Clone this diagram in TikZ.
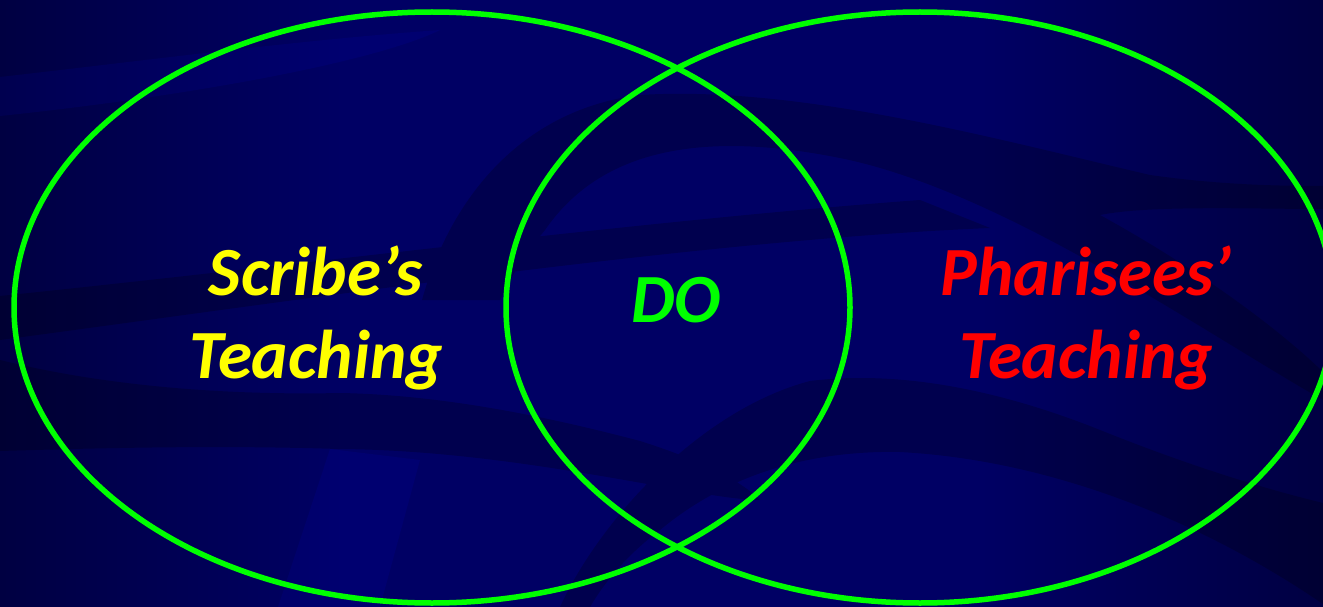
\documentclass[tikz,border=0pt]{standalone}
\usepackage{fontspec}
\setmainfont{Carlito}
\definecolor{bgbase}{RGB}{0,0,100}
\definecolor{bgedge}{RGB}{0,0,66}
\definecolor{vgreen}{RGB}{0,255,0}
\definecolor{vyellow}{RGB}{255,255,0}
\definecolor{vred}{RGB}{255,0,0}
\pgfdeclarehorizontalshading{vignette}{100bp}{color(0bp)=(bgedge); color(25bp)=(bgedge); color(38bp)=(bgbase); color(62bp)=(bgbase); color(75bp)=(bgedge); color(100bp)=(bgedge)}
\tikzset{
  vring/.style={draw=vgreen, line width=5.5pt},
  vlabel/.style={font=\bfseries\itshape\fontsize{69}{83}\selectfont, align=center, inner sep=0pt},
  darkband/.style={fill=black, opacity=0.22},
  lightband/.style={fill=blue, opacity=0.08},
}
\begin{document}
\begin{tikzpicture}[x=1pt,y=-1pt]
\useasboundingbox (0,0) rectangle (1323,607);
% background
\shade[shading=vignette] (0,0) rectangle (1323,607);
% light bands
\fill[lightband] (0,77) .. controls (150,60) and (300,40) .. (440,30)
  .. controls (380,60) and (200,95) .. (0,116) -- cycle
  (330,449) -- (420,460) -- (380,607) -- (278,607) -- cycle;
% dark bands (one path, so overlaps are not darker)
\fill[darkband]
  % big arc
  (422,300) .. controls (450,200) and (520,110) .. (640,95)
  .. controls (800,85) and (1000,140) .. (1150,175)
  .. controls (1220,185) and (1280,186) .. (1323,186)
  -- (1323,209) .. controls (1250,209) and (1150,205) .. (1100,215)
  .. controls (1200,270) and (1280,330) .. (1323,372)
  -- (1323,400) .. controls (1200,330) and (1000,190) .. (840,158)
  .. controls (700,130) and (600,150) .. (545,230)
  .. controls (520,260) and (510,280) .. (500,300) -- cycle
  % middle band
  (0,296) .. controls (300,265) and (650,220) .. (920,200)
  -- (990,228) .. controls (700,240) and (300,300) .. (0,340) -- cycle
  % lower left arc
  (0,360) .. controls (120,390) and (250,395) .. (340,393)
  .. controls (450,395) and (560,420) .. (640,441)
  .. controls (700,460) and (740,480) .. (760,500)
  .. controls (700,500) and (520,450) .. (338,449)
  .. controls (220,445) and (100,448) .. (0,451) -- cycle
  % lower right arc
  (560,607) .. controls (600,520) and (700,410) .. (810,381)
  .. controls (900,370) and (1000,390) .. (1100,430)
  .. controls (1200,470) and (1270,490) .. (1323,503)
  -- (1323,604) .. controls (1200,520) and (1050,460) .. (900,452)
  .. controls (800,450) and (720,480) .. (660,530)
  .. controls (620,560) and (600,590) .. (590,607) -- cycle;
% ellipses
\draw[vring] (432,307.5) ellipse [x radius=418pt, y radius=295.5pt];
\draw[vring] (920,307.5) ellipse [x radius=414pt, y radius=295.5pt];
% labels
\node[vlabel, text=vyellow] (scribe) at (316,318) {Scribe’s\\Teaching};
\node[vlabel, text=vgreen] (do) at (676,300) {DO};
\node[vlabel, text=vred] (phar) at (1086,318) {Pharisees’\\Teaching};
\end{tikzpicture}
\end{document}
